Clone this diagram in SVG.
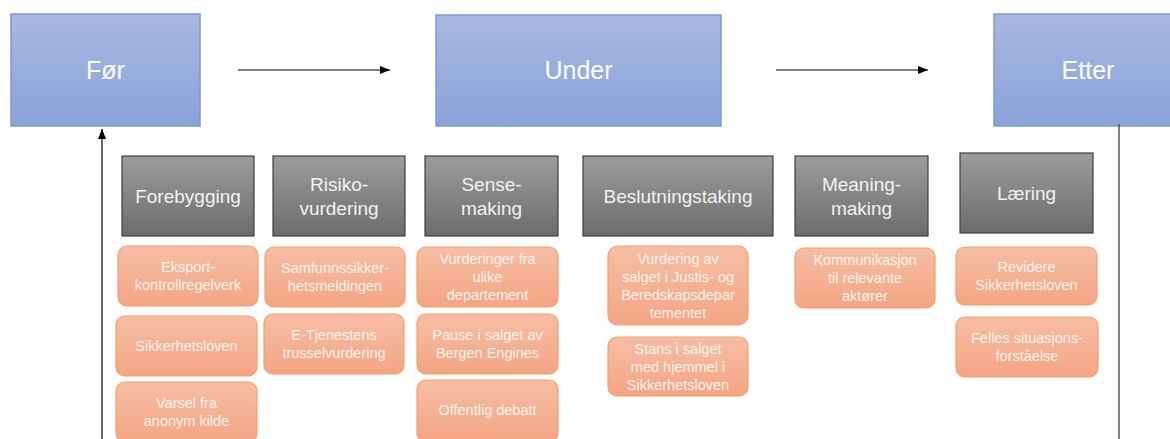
<svg xmlns="http://www.w3.org/2000/svg" width="1170" height="439" viewBox="0 0 1170 439">
<defs>
<linearGradient id="gb" x1="0" y1="0" x2="0" y2="1"><stop offset="0" stop-color="#a9b7e1"/><stop offset="1" stop-color="#8aa3d9"/></linearGradient>
<linearGradient id="gg" x1="0" y1="0" x2="0" y2="1"><stop offset="0" stop-color="#9c9c9c"/><stop offset="1" stop-color="#6c6c6c"/></linearGradient>
<linearGradient id="go" x1="0" y1="0" x2="0" y2="1"><stop offset="0" stop-color="#f6bea5"/><stop offset="1" stop-color="#f4a583"/></linearGradient>
<marker id="ah" markerWidth="10" markerHeight="8" refX="10" refY="4" orient="auto" markerUnits="userSpaceOnUse"><path d="M0,0 L10,4 L0,8 Z" fill="#000"/></marker>
<style>
.blue{fill:url(#gb);stroke:#7d99d8;stroke-width:1.5}
.gray{fill:url(#gg);stroke:#3f3f3f;stroke-width:1.2}
.org{fill:url(#go);stroke:#f2a06b;stroke-width:1.2}
text{font-family:"Liberation Sans",Arial,sans-serif;fill:#fff;text-anchor:middle}
.bt{font-size:25px}
.gt{font-size:19px;fill:#f2f2f2}
.ot{font-size:14.5px;fill:#fdf4ef}
.con{stroke:#000;stroke-width:1.2;fill:none}
</style>
</defs>
<g id="node-for"><rect class="blue" x="11" y="14" width="189" height="112"/><text class="bt" x="105.5" y="79">Før</text></g>
<g id="node-under"><rect class="blue" x="436" y="15" width="285" height="111"/><text class="bt" x="578.5" y="79">Under</text></g>
<g id="node-etter"><rect class="blue" x="994" y="14" width="188" height="112"/><text class="bt" x="1088" y="79">Etter</text></g>

<g id="node-forebygging"><rect class="gray" x="122" y="156" width="132" height="80"/><text class="gt" x="188" y="203">Forebygging</text></g>
<g id="node-risiko"><rect class="gray" x="273" y="156" width="132" height="80"/><text class="gt" x="339" y="190.5">Risiko-</text><text class="gt" x="339" y="214.5">vurdering</text></g>
<g id="node-sense"><rect class="gray" x="425" y="156" width="133" height="80"/><text class="gt" x="491.5" y="190.5">Sense-</text><text class="gt" x="491.5" y="214.5">making</text></g>
<g id="node-beslutning"><rect class="gray" x="583" y="156" width="190" height="80"/><text class="gt" x="678" y="203">Beslutningstaking</text></g>
<g id="node-meaning"><rect class="gray" x="795" y="156" width="133" height="80"/><text class="gt" x="861.5" y="190.5">Meaning-</text><text class="gt" x="861.5" y="214.5">making</text></g>
<g id="node-laering"><rect class="gray" x="960" y="153" width="133" height="80"/><text class="gt" x="1026.5" y="200">Læring</text></g>

<g id="node-eksport"><rect class="org" x="118" y="246" width="140" height="60" rx="9"/><text class="ot" x="188" y="272">Eksport-</text><text class="ot" x="188" y="290">kontrollregelverk</text></g>
<g id="node-sikk1"><rect class="org" x="116" y="316" width="141" height="60" rx="9"/><text class="ot" x="186.5" y="351">Sikkerhetsloven</text></g>
<g id="node-varsel"><rect class="org" x="116" y="382" width="141" height="60" rx="9"/><text class="ot" x="186.5" y="408">Varsel fra</text><text class="ot" x="186.5" y="426">anonym kilde</text></g>

<g id="node-samfunn"><rect class="org" x="265" y="247" width="140" height="60" rx="9"/><text class="ot" x="335" y="273">Samfunnssikker-</text><text class="ot" x="335" y="291">hetsmeldingen</text></g>
<g id="node-etj"><rect class="org" x="264" y="314" width="140" height="60" rx="9"/><text class="ot" x="334" y="340">E-Tjenestens</text><text class="ot" x="334" y="358">trusselvurdering</text></g>

<g id="node-vurderinger"><rect class="org" x="417" y="247" width="141" height="60" rx="9"/><text class="ot" x="487.5" y="264">Vurderinger fra</text><text class="ot" x="487.5" y="282">ulike</text><text class="ot" x="487.5" y="300">departement</text></g>
<g id="node-pause"><rect class="org" x="417" y="314" width="141" height="60" rx="9"/><text class="ot" x="487.5" y="340">Pause i salget av</text><text class="ot" x="487.5" y="358">Bergen Engines</text></g>
<g id="node-offentlig"><rect class="org" x="417" y="380" width="141" height="62" rx="9"/><text class="ot" x="487.5" y="415">Offentlig debatt</text></g>

<g id="node-vurdering"><rect class="org" x="608" y="246" width="140" height="79" rx="10"/><text class="ot" x="678" y="263.5">Vurdering av</text><text class="ot" x="678" y="281.5">salget i Justis- og</text><text class="ot" x="678" y="299.5">Beredskapsdepar</text><text class="ot" x="678" y="317.5">tementet</text></g>
<g id="node-stans"><rect class="org" x="608" y="337" width="140" height="59" rx="9"/><text class="ot" x="678" y="353.5">Stans i salget</text><text class="ot" x="678" y="371.5">med hjemmel i</text><text class="ot" x="678" y="389.5">Sikkerhetsloven</text></g>

<g id="node-kommunikasjon"><rect class="org" x="795" y="248" width="140" height="60" rx="9"/><text class="ot" x="865" y="265">Kommunikasjon</text><text class="ot" x="865" y="283">til relevante</text><text class="ot" x="865" y="301">aktører</text></g>

<g id="node-revidere"><rect class="org" x="956" y="247" width="141" height="58" rx="9"/><text class="ot" x="1026.5" y="272">Revidere</text><text class="ot" x="1026.5" y="290">Sikkerhetsloven</text></g>
<g id="node-felles"><rect class="org" x="956" y="317" width="142" height="60" rx="9"/><text class="ot" x="1027" y="343">Felles situasjons-</text><text class="ot" x="1027" y="361">forståelse</text></g>

<g id="connectors">
<line class="con" x1="238" y1="70" x2="390" y2="70" marker-end="url(#ah)"/>
<line class="con" x1="776" y1="70" x2="928" y2="70" marker-end="url(#ah)"/>
<line class="con" x1="102" y1="439" x2="102" y2="129" marker-end="url(#ah)"/>
<line x1="1119" y1="124" x2="1119" y2="439" stroke="#555" stroke-width="1.5"/>
</g>
</svg>
